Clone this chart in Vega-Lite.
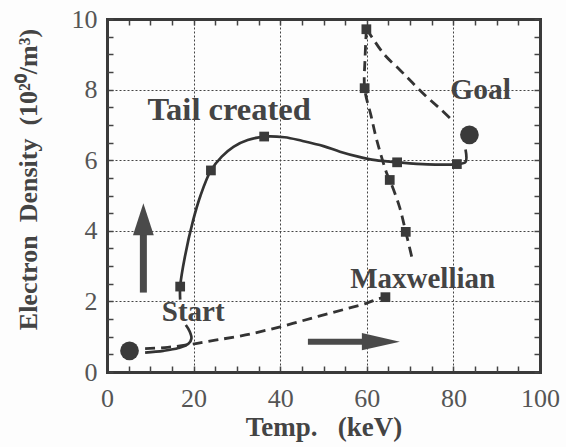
{
  "$schema": "https://vega.github.io/schema/vega-lite/v6.json",
  "width": 433,
  "height": 353,
  "autosize": {"type": "none"},
  "padding": {"left": 107, "top": 19, "right": 26, "bottom": 75},
  "background": "#fdfdfd",
  "config": {"view": {"stroke": null}, "font": "Liberation Serif"},
  "datasets": {
    "solid": [
      {"seg": "A", "i": 1, "x": 8.8, "y": 0.55},
      {"seg": "A", "i": 2, "x": 13, "y": 0.6},
      {"seg": "A", "i": 3, "x": 16.5, "y": 0.68},
      {"seg": "A", "i": 4, "x": 18.8, "y": 0.8},
      {"seg": "A", "i": 5, "x": 19.5, "y": 0.95},
      {"seg": "A", "i": 6, "x": 19.1, "y": 1.15},
      {"seg": "A", "i": 7, "x": 18.2, "y": 1.33},
      {"seg": "B", "i": 1, "x": 16.9, "y": 2.05},
      {"seg": "B", "i": 2, "x": 16.9, "y": 2.42},
      {"seg": "B", "i": 3, "x": 18.0, "y": 3.27},
      {"seg": "B", "i": 4, "x": 19.9, "y": 4.3},
      {"seg": "B", "i": 5, "x": 21.6, "y": 5.0},
      {"seg": "B", "i": 6, "x": 24, "y": 5.71},
      {"seg": "B", "i": 7, "x": 26.5, "y": 6.1},
      {"seg": "B", "i": 8, "x": 29.2, "y": 6.38},
      {"seg": "B", "i": 9, "x": 32.5, "y": 6.57},
      {"seg": "B", "i": 10, "x": 36.3, "y": 6.67},
      {"seg": "B", "i": 11, "x": 41, "y": 6.65},
      {"seg": "B", "i": 12, "x": 45, "y": 6.55},
      {"seg": "B", "i": 13, "x": 50, "y": 6.4},
      {"seg": "B", "i": 14, "x": 53.8, "y": 6.24},
      {"seg": "B", "i": 15, "x": 58, "y": 6.1},
      {"seg": "B", "i": 16, "x": 62, "y": 6.0},
      {"seg": "B", "i": 17, "x": 67, "y": 5.94},
      {"seg": "B", "i": 18, "x": 74, "y": 5.88},
      {"seg": "B", "i": 19, "x": 80.8, "y": 5.89},
      {"seg": "B", "i": 20, "x": 82.8, "y": 5.95},
      {"seg": "B", "i": 21, "x": 82.8, "y": 6.3}
    ],
    "dashed": [
      {"seg": "D1", "i": 1, "x": 8.8, "y": 0.66},
      {"seg": "D1", "i": 2, "x": 14, "y": 0.7},
      {"seg": "D1", "i": 3, "x": 19.2, "y": 0.78},
      {"seg": "D1", "i": 4, "x": 25, "y": 0.9},
      {"seg": "D1", "i": 5, "x": 32, "y": 1.05},
      {"seg": "D1", "i": 6, "x": 40, "y": 1.28},
      {"seg": "D1", "i": 7, "x": 48, "y": 1.55},
      {"seg": "D1", "i": 8, "x": 55, "y": 1.78},
      {"seg": "D1", "i": 9, "x": 60, "y": 1.95},
      {"seg": "D1", "i": 10, "x": 62.5, "y": 2.07},
      {"seg": "D1", "i": 11, "x": 64.3, "y": 2.12},
      {"seg": "D2", "i": 1, "x": 59.9, "y": 9.71},
      {"seg": "D2", "i": 2, "x": 59.6, "y": 8.9},
      {"seg": "D2", "i": 3, "x": 59.5, "y": 8.04},
      {"seg": "D2", "i": 4, "x": 61, "y": 7.25},
      {"seg": "D2", "i": 5, "x": 62.3, "y": 6.57},
      {"seg": "D2", "i": 6, "x": 64.6, "y": 5.63},
      {"seg": "D2", "i": 7, "x": 65.3, "y": 5.44},
      {"seg": "D2", "i": 8, "x": 67.5, "y": 4.7},
      {"seg": "D2", "i": 9, "x": 69, "y": 3.97},
      {"seg": "D2", "i": 10, "x": 70.5, "y": 3.2},
      {"seg": "D3", "i": 1, "x": 59.9, "y": 9.71},
      {"seg": "D3", "i": 2, "x": 61.1, "y": 9.5},
      {"seg": "D3", "i": 3, "x": 64, "y": 9.0},
      {"seg": "D3", "i": 4, "x": 67.7, "y": 8.55},
      {"seg": "D3", "i": 5, "x": 70.5, "y": 8.2},
      {"seg": "D3", "i": 6, "x": 73.8, "y": 7.8},
      {"seg": "D3", "i": 7, "x": 77, "y": 7.45},
      {"seg": "D3", "i": 8, "x": 80, "y": 7.1}
    ],
    "squares": [
      {"x": 16.9, "y": 2.42}, {"x": 24, "y": 5.71}, {"x": 36.3, "y": 6.67},
      {"x": 67, "y": 5.94}, {"x": 80.8, "y": 5.89}, {"x": 59.9, "y": 9.71},
      {"x": 59.5, "y": 8.04}, {"x": 65.3, "y": 5.44}, {"x": 69, "y": 3.97},
      {"x": 64.3, "y": 2.12}
    ],
    "circles": [{"x": 5.2, "y": 0.6}, {"x": 83.7, "y": 6.72}],
    "labels": [
      {"t": "Tail created", "x": 28.2, "y": 7.42, "s": 32.5},
      {"t": "Goal", "x": 86.3, "y": 8.0, "s": 29.5},
      {"t": "Maxwellian", "x": 72.9, "y": 2.63, "s": 29},
      {"t": "Start", "x": 19.9, "y": 1.71, "s": 29}
    ],
    "shafts": [
      {"x": 8.4, "y": 2.25, "x2": 8.4, "y2": 3.95, "w": 7},
      {"x": 46.4, "y": 0.86, "x2": 59.0, "y2": 0.86, "w": 6}
    ],
    "heads": [
      {"x": 8.4, "y": 4.33, "dir": "up"},
      {"x": 63.25, "y": 0.86, "dir": "right"}
    ]
  },
  "resolve": {"axis": {"x": "independent", "y": "independent"}},
  "layer": [
    {
      "data": {"name": "solid"},
      "mark": {"type": "line", "interpolate": "catmull-rom", "color": "#333", "strokeWidth": 2.7},
      "encoding": {
        "x": {
          "field": "x", "type": "quantitative",
          "scale": {"domain": [0, 100], "nice": false},
          "axis": {
            "orient": "bottom",
            "values": [0, 20, 40, 60, 80, 100],
            "format": "d",
            "labelFlush": false, "labelOverlap": false,
            "tickSize": -6, "tickWidth": 1.5, "tickColor": "#444",
            "labelPadding": 19,
            "grid": true, "gridDash": [2, 2], "gridColor": "#444", "gridWidth": 1, "gridOpacity": 1,
            "domainWidth": 3, "domainColor": "#3a3a3a", "domainCap": "square",
            "labelFont": "Liberation Serif", "labelFontSize": 26, "labelColor": "#555",
            "title": "Temp.\u00a0\u00a0\u00a0(keV)", "titleFont": "Liberation Serif", "titleFontSize": 27,
            "titleFontWeight": "bold", "titleColor": "#444", "titlePadding": 3
          }
        },
        "y": {
          "field": "y", "type": "quantitative",
          "scale": {"domain": [0, 10], "nice": false},
          "axis": {
            "orient": "left",
            "values": [0, 2, 4, 6, 8, 10],
            "format": "d",
            "labelFlush": false, "labelOverlap": false,
            "tickSize": -6, "tickWidth": 1.5, "tickColor": "#444",
            "labelPadding": 16,
            "grid": true, "gridDash": [2, 2], "gridColor": "#444", "gridWidth": 1, "gridOpacity": 1,
            "domainWidth": 3, "domainColor": "#3a3a3a", "domainCap": "square",
            "labelFont": "Liberation Serif", "labelFontSize": 26, "labelColor": "#555",
            "title": "Electron\u00a0\u00a0Density\u00a0\u00a0(10²⁰/m³)", "titleFont": "Liberation Serif", "titleFontSize": 26,
            "titleFontWeight": "bold", "titleColor": "#444",
            "titleX": -79, "titleY": 160, "titleAlign": "center", "titleBaseline": "middle", "titleAngle": -90
          }
        },
        "detail": {"field": "seg"},
        "order": {"field": "i", "type": "quantitative"}
      }
    },
    {
      "data": {"name": "dashed"},
      "mark": {"type": "line", "interpolate": "catmull-rom", "color": "#333", "strokeWidth": 2.8, "strokeDash": [10, 6]},
      "encoding": {
        "x": {
          "field": "x", "type": "quantitative",
          "scale": {"domain": [0, 100], "nice": false},
          "axis": {
            "orient": "top",
            "values": [0,5,10,15,20,25,30,35,40,45,50,55,60,65,70,75,80,85,90,95,100],
            "labels": false, "grid": false, "title": null,
            "tickSize": -6, "tickWidth": 1.5, "tickColor": "#444",
            "domainWidth": 3, "domainColor": "#3a3a3a", "domainCap": "square"
          }
        },
        "y": {
          "field": "y", "type": "quantitative",
          "scale": {"domain": [0, 10], "nice": false},
          "axis": {
            "orient": "right",
            "values": [0,0.5,1,1.5,2,2.5,3,3.5,4,4.5,5,5.5,6,6.5,7,7.5,8,8.5,9,9.5,10],
            "labels": false, "grid": false, "title": null,
            "tickSize": -6, "tickWidth": 1.5, "tickColor": "#444",
            "domainWidth": 3, "domainColor": "#3a3a3a", "domainCap": "square"
          }
        },
        "detail": {"field": "seg"},
        "order": {"field": "i", "type": "quantitative"}
      }
    },
    {
      "data": {"name": "squares"},
      "mark": {"type": "point", "shape": "square", "filled": true, "size": 95, "color": "#3a3a3a", "opacity": 1},
      "encoding": {
        "x": {
          "field": "x", "type": "quantitative",
          "axis": {
            "orient": "bottom",
            "values": [0,5,10,15,25,30,35,45,50,55,65,70,75,85,90,95],
            "labels": false, "grid": false, "title": null, "domain": false,
            "tickSize": -6, "tickWidth": 1.5, "tickColor": "#444"
          }
        },
        "y": {
          "field": "y", "type": "quantitative",
          "axis": {
            "orient": "left",
            "values": [0.5,1,1.5,2.5,3,3.5,4.5,5,5.5,6.5,7,7.5,8.5,9,9.5],
            "labels": false, "grid": false, "title": null, "domain": false,
            "tickSize": -6, "tickWidth": 1.5, "tickColor": "#444"
          }
        }
      }
    },
    {
      "data": {"name": "circles"},
      "mark": {"type": "point", "shape": "circle", "filled": true, "size": 350, "color": "#3a3a3a", "opacity": 1},
      "encoding": {
        "x": {"field": "x", "type": "quantitative", "axis": null},
        "y": {"field": "y", "type": "quantitative", "axis": null}
      }
    },
    {
      "data": {"name": "shafts"},
      "mark": {"type": "rule", "color": "#4a4a4a"},
      "encoding": {
        "x": {"field": "x", "type": "quantitative", "axis": null},
        "y": {"field": "y", "type": "quantitative", "axis": null},
        "x2": {"field": "x2"},
        "y2": {"field": "y2"},
        "strokeWidth": {"field": "w", "type": "quantitative", "scale": null, "legend": null}
      }
    },
    {
      "data": {"name": "heads"},
      "mark": {"type": "point", "filled": true, "color": "#4a4a4a", "opacity": 1},
      "encoding": {
        "x": {"field": "x", "type": "quantitative", "axis": null},
        "y": {"field": "y", "type": "quantitative", "axis": null},
        "shape": {
          "field": "dir", "type": "nominal", "legend": null,
          "scale": {"domain": ["up", "right"], "range": ["M0,-1L0.65,1L-0.65,1Z", "M1,0L-1,0.45L-1,-0.45Z"]}
        },
        "size": {
          "field": "dir", "type": "nominal", "legend": null,
          "scale": {"domain": ["up", "right"], "range": [1024, 1444]}
        }
      }
    },
    {
      "data": {"name": "labels"},
      "mark": {"type": "text", "font": "Liberation Serif", "fontWeight": "bold", "color": "#444", "align": "center", "baseline": "middle"},
      "encoding": {
        "x": {"field": "x", "type": "quantitative", "axis": null},
        "y": {"field": "y", "type": "quantitative", "axis": null},
        "text": {"field": "t"},
        "size": {"field": "s", "type": "quantitative", "scale": null, "legend": null}
      }
    }
  ]
}
